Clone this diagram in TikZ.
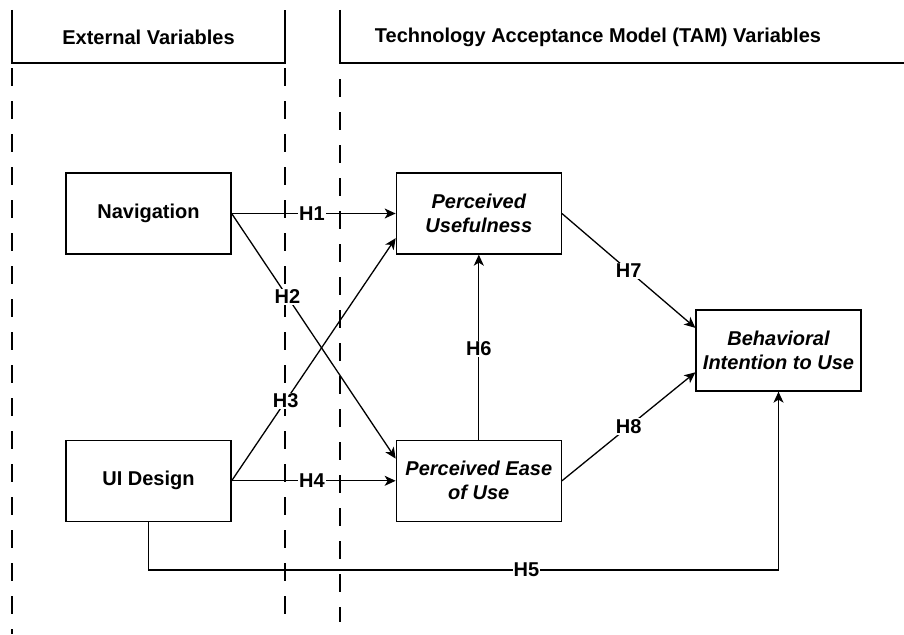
\documentclass[tikz,border=0pt]{standalone}
\usepackage{fontspec}
\setmainfont{Liberation Sans}
\usepackage{tikz}
\usetikzlibrary{arrows.meta,positioning,calc}

\begin{document}
\begin{tikzpicture}[x=1pt,y=-1pt,
  every node/.style={font=\fontsize{20}{24}\selectfont\bfseries,align=center},
  var/.style={draw,line width=1.3pt,minimum width=165pt,minimum height=81pt,inner sep=0pt},
  tam/.style={var,font=\fontsize{20}{24}\selectfont\bfseries\itshape},
  lbl/.style={fill=white,inner sep=1pt},
  arr/.style={-{Stealth[length=11pt,width=10pt,inset=3pt]},line width=1.3pt},
  sep/.style={line width=1.3pt,dash pattern=on 18pt off 15pt}
]
\useasboundingbox (0,0) rectangle (904,634);
% column headers
\draw[line width=1.3pt] (12,10) -- (12,63) -- (285,63) -- (285,10);
\draw[line width=1.3pt] (340,10) -- (340,63) -- (904,63);
\node (extvar) at (148.5,37) {External Variables};
\node (tamvar) at (598,37) {Technology Acceptance Model (TAM) Variables};
\draw[sep] (12,68) -- (12,634);
\draw[sep] (285,68) -- (285,627);
\draw[sep] (340,79) -- (340,622);
% variables
\node[var] (nav) at (148.5,213.5) {Navigation};
\node[var,below=185pt of nav] (ui) {UI Design};
\node[tam,right=164pt of nav] (pu) {Perceived\\Usefulness};
\node[tam,right=164pt of ui] (peu) {Perceived Ease\\of Use};
\node[tam] (bi) at (778.5,350.5) {Behavioral\\Intention to Use};
% hypotheses
\draw[arr] (nav.east) -- node[lbl,pos=0.49]{H1} (pu.west);
\draw[arr] (nav.east) -- node[lbl,pos=0.34]{H2} ($(peu.west)!0.54!(peu.north west)$);
\draw[arr] (ui.east) -- node[lbl,pos=0.33]{H3} ($(pu.west)!0.6!(pu.south west)$);
\draw[arr] (ui.east) -- node[lbl,pos=0.49]{H4} (peu.west);
\draw[arr] (ui.south) -- ++(0,48) -| node[lbl,pos=0.3]{H5} (bi.south);
\draw[arr] (peu.north) -- node[lbl,pos=0.49]{H6} (pu.south);
\draw[arr] (pu.east) -- node[lbl]{H7} ($(bi.west)!0.55!(bi.north west)$);
\draw[arr] (peu.east) -- node[lbl]{H8} ($(bi.west)!0.53!(bi.south west)$);
\end{tikzpicture}
\end{document}
